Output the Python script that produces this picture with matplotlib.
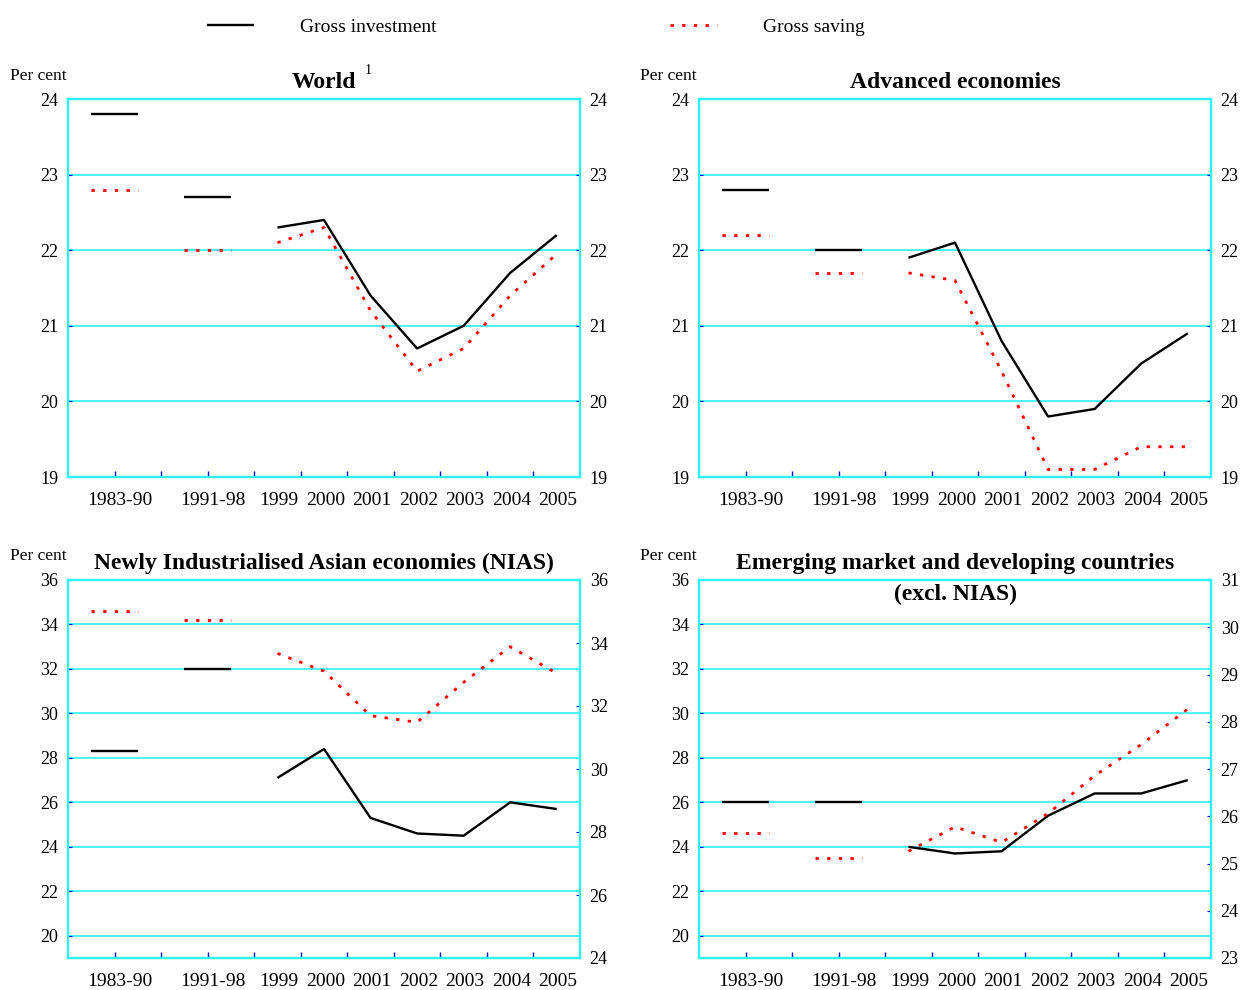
import matplotlib
matplotlib.use('Agg')
import matplotlib.pyplot as plt
from matplotlib.lines import Line2D
import numpy as np

plt.rcParams['font.family'] = ['Liberation Serif', 'DejaVu Serif']

# categories
periods = ['1983-90', '1991-98']
years = ['1999', '2000', '2001', '2002', '2003', '2004', '2005']

# World
world_inv_period = [23.8, 22.7]
world_sav_period = [22.8, 22.0]
world_inv = [22.3, 22.4, 21.4, 20.7, 21.0, 21.7, 22.2]
world_sav = [22.1, 22.3, 21.2, 20.4, 20.7, 21.4, 21.95]

# Advanced economies
adv_inv_period = [22.8, 22.0]
adv_sav_period = [22.2, 21.7]
adv_inv = [21.9, 22.1, 20.8, 19.8, 19.9, 20.5, 20.9]
adv_sav = [21.7, 21.6, 20.4, 19.1, 19.1, 19.4, 19.4]

# Newly Industrialised Asian economies
nias_inv_period = [28.3, 32.0]
nias_sav_period = [34.6, 34.2]
nias_inv = [27.1, 28.4, 25.3, 24.6, 24.5, 26.0, 25.7]
nias_sav = [32.7, 31.9, 29.9, 29.6, 31.4, 33.0, 31.8]

# Emerging market and developing countries (excl. NIAS)
emg_inv_period = [26.0, 26.0]
emg_sav_period = [24.6, 23.5]
emg_inv = [24.0, 23.7, 23.8, 25.4, 26.4, 26.4, 27.0]
emg_sav = [23.8, 24.9, 24.2, 25.5, 27.2, 28.6, 30.2]

CYAN = '#2ff3f8'
BLUE = '#0000ff'
INV_STYLE = dict(color='black', lw=1.7, solid_capstyle='butt')
SAV_STYLE = dict(color='red', lw=2.0, linestyle=(0, (1.2, 3.0)))


def draw_panel(ax, title_lines, inv_p, sav_p, inv, sav, lticks, llim, rticks, rlim):
    # period averages drawn as short flat segments, yearly values as a line
    p_centers = np.arange(len(periods)) * 2 + 1.0
    for c, vi, vs in zip(p_centers, inv_p, sav_p):
        ax.plot([c - 0.5, c + 0.5], [vi, vi], **INV_STYLE)
        ax.plot([c - 0.5, c + 0.5], [vs, vs], **SAV_STYLE)
    yx = np.arange(len(years)) + 4.5
    ax.plot(yx, inv, **INV_STYLE)
    ax.plot(yx, sav, **SAV_STYLE)

    ax.set_xlim(0, 11)
    ax.set_ylim(*llim)
    ax.set_yticks(lticks)
    ax.set_xticks(np.arange(1, 11))
    ax.set_xticklabels([])
    ax.set_xticks(list(p_centers + 0.12) + list(yx + 0.03), minor=True)
    ax.set_xticklabels(periods + years, minor=True)
    ax.tick_params(axis='x', which='major', direction='in', length=4,
                   color=BLUE, width=1)
    ax.tick_params(axis='x', which='minor', length=0, labelsize=14, pad=11)
    ax.tick_params(axis='y', direction='in', length=3, color=BLUE,
                   labelsize=13, pad=7)
    ax.grid(axis='y', color=CYAN, lw=1.2)
    ax.set_axisbelow(True)

    ax2 = ax.twinx()
    ax2.set_ylim(*rlim)
    ax2.set_yticks(rticks)
    ax2.tick_params(axis='y', direction='in', length=3, color=BLUE,
                    labelsize=13, pad=7)
    for a in (ax, ax2):
        for s in a.spines.values():
            s.set_color(CYAN)
            s.set_linewidth(1.6)

    texts = []
    for i, line in enumerate(title_lines):
        texts.append(ax.text(0.5, 1 + (17 - 31 * i) / 378, line,
                             transform=ax.transAxes, ha='center', va='center',
                             fontsize=17, fontweight='bold'))
    return texts


fig = plt.figure(figsize=(12.41, 9.9), dpi=100)
W, H = 1241, 990
aw, ah = 512 / W, 378 / H
ax_w = fig.add_axes([68 / W, 1 - 477 / H, aw, ah])
ax_a = fig.add_axes([699 / W, 1 - 477 / H, aw, ah])
ax_n = fig.add_axes([68 / W, 1 - 958 / H, aw, ah])
ax_e = fig.add_axes([699 / W, 1 - 958 / H, aw, ah])

t_world = draw_panel(ax_w, ['World'], world_inv_period, world_sav_period,
                     world_inv, world_sav, range(19, 25), (19, 24),
                     range(19, 25), (19, 24))
ax_w.annotate('1', xy=(1, 1), xycoords=t_world[0], xytext=(6, 1),
              textcoords='offset points', fontsize=10, va='center')

draw_panel(ax_a, ['Advanced economies'], adv_inv_period, adv_sav_period,
           adv_inv, adv_sav, range(19, 25), (19, 24),
           range(19, 25), (19, 24))

draw_panel(ax_n, ['Newly Industrialised Asian economies (NIAS)'],
           nias_inv_period, nias_sav_period, nias_inv, nias_sav,
           range(20, 37, 2), (19, 36), range(24, 37, 2), (24, 36))

draw_panel(ax_e, ['Emerging market and developing countries', '(excl. NIAS)'],
           emg_inv_period, emg_sav_period, emg_inv, emg_sav,
           range(20, 37, 2), (19, 36), range(23, 32), (23, 31))

for x0, y0 in [(10, 76), (640, 76), (10, 556), (640, 556)]:
    fig.text(x0 / W, 1 - y0 / H, 'Per cent', fontsize=12.5,
             ha='left', va='center')

handles = [Line2D([], [], **INV_STYLE), Line2D([], [], **SAV_STYLE)]
fig.legend(handles, ['Gross investment', 'Gross saving'], ncol=2,
           loc='center left', bbox_to_anchor=(207 / W, 1 - 27 / H),
           frameon=False, fontsize=14, handlelength=2.42,
           handletextpad=2.37, columnspacing=12.0,
           borderpad=0, borderaxespad=0)

fig.savefig('out.png', dpi=100)
